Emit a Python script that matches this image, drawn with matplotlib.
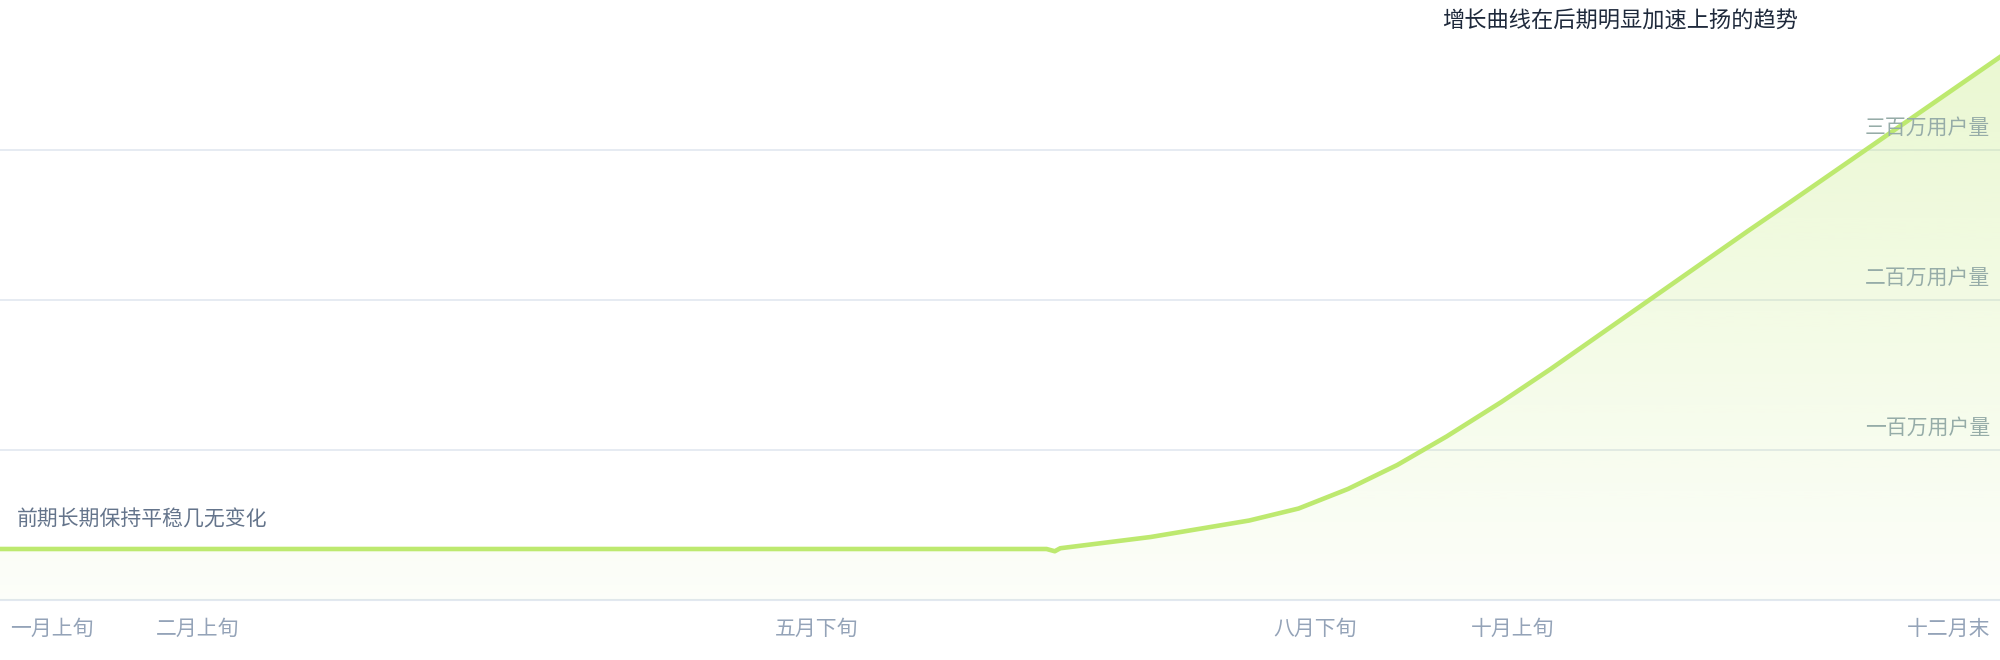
import numpy as np
import matplotlib.pyplot as plt

plt.rcParams['font.family'] = ['Noto Sans CJK SC', 'DejaVu Sans']

# 横轴：一年中的第几天；纵轴：用户量（百万）
days = [0, 36, 149, 191, 192.5, 193.5, 210, 228, 237, 246, 255, 264, 274,
        283, 292, 301, 310, 319, 327, 365]
users = [0.34, 0.34, 0.34, 0.34, 0.325, 0.345, 0.42, 0.53, 0.61, 0.74,
         0.90, 1.09, 1.32, 1.54, 1.77, 2.00, 2.23, 2.46, 2.66, 3.62]

tick_days = [0, 36, 149, 240, 276, 365]
tick_labels = ['一月上旬', '二月上旬', '五月下旬', '八月下旬', '十月上旬', '十二月末']

grid_values = [1, 2, 3]
grid_labels = ['一百万用户量', '二百万用户量', '三百万用户量']

title = '增长曲线在后期明显加速上扬的趋势'
note = '前期长期保持平稳几无变化'

line_color = '#bde96f'
grid_color = '#e2e8f0'

fig = plt.figure(figsize=(20, 6.6), dpi=100)
ax = fig.add_axes([0, 60 / 660, 1, 600 / 660])

# 网格线
for v in grid_values:
    ax.axhline(v, color=grid_color, lw=1.2, zorder=1)
ax.axhline(0, color=grid_color, lw=1.5, zorder=1, clip_on=False)

# 渐变填充
fill = ax.fill_between(days, users, 0, color='none', lw=0)
alpha = np.linspace(0.04, 0.34, 256)
img = np.zeros((256, 1, 4))
img[:, 0, 0] = 189 / 255
img[:, 0, 1] = 233 / 255
img[:, 0, 2] = 111 / 255
img[:, 0, 3] = alpha
im = ax.imshow(img, extent=[0, 365, 0, 4], origin='lower', aspect='auto',
               zorder=2, interpolation='bilinear')
im.set_clip_path(fill.get_paths()[0], transform=ax.transData)

ax.plot(days, users, color=line_color, lw=3.3, zorder=3,
        solid_joinstyle='round')

ax.set_xlim(0, 365)
ax.set_ylim(0, 4)
ax.axis('off')

px = 0.72  # 1 像素 = 0.72 磅 (dpi 100)

# 纵轴标签
for v, lab in zip(grid_values, grid_labels):
    ax.annotate(lab, xy=(1, v), xycoords=('axes fraction', 'data'),
                xytext=(-10 * px, 11 * px), textcoords='offset points',
                ha='right', va='bottom', fontsize=15, color='#96aca8')

# 横轴标签
for i, (d, lab) in enumerate(zip(tick_days, tick_labels)):
    if i == 0:
        ha, dx = 'left', 10
    elif i == len(tick_days) - 1:
        ha, dx = 'right', -10
    else:
        ha, dx = 'center', 0
    ax.annotate(lab, xy=(d, 0), xycoords='data',
                xytext=(dx * px, -29 * px), textcoords='offset points',
                ha=ha, va='center', fontsize=15, color='#94a3b8',
                annotation_clip=False)

fig.text(17 / 2000, 1 - 520 / 660, note, ha='left', va='center',
         fontsize=15, color='#64748b')
fig.text(1442 / 2000, 1 - 21 / 660, title, ha='left', va='center',
         fontsize=16, color='#1e293b')

fig.savefig('out.png', dpi=100)
